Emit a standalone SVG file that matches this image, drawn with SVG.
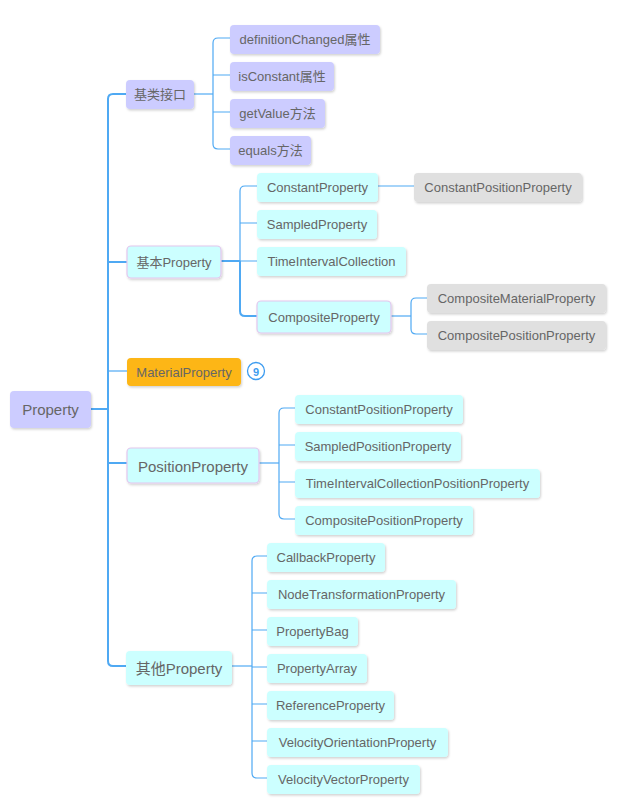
<svg xmlns="http://www.w3.org/2000/svg" width="622" height="804" viewBox="0 0 622 804">
<defs>
<filter id="sh" x="-10%" y="-20%" width="130%" height="160%">
<feDropShadow dx="1" dy="1.5" stdDeviation="0.8" flood-color="#000" flood-opacity="0.18"/>
</filter>
</defs>
<style>
.b{stroke:none;filter:url(#sh)}
.lav{fill:#ccccff}
.cy{fill:#ccffff}
.gr{fill:#e0e0e0}
.or{fill:#fdb614}
.bd{stroke:#e3c6ee;stroke-width:1.2}
text{font-family:"Liberation Sans","Noto Sans CJK SC",sans-serif;fill:#666;text-anchor:middle;dominant-baseline:central;font-size:13px}
.big{font-size:15px}
.c{fill:none;stroke:#4fa9f3;stroke-width:1.2}
.t{stroke-width:2}
</style>
<rect width="622" height="804" fill="#fff"/>
<g id="connectors">
<!-- root -->
<path class="c t" d="M91 409H108"/>
<path class="c t" d="M126 94H113Q108 94 108 99V661Q108 666 113 666H126"/>
<path class="c t" d="M108 262H127"/>
<path class="c" d="M108 371H127"/>
<path class="c t" d="M108 463H127"/>
<!-- 基类接口 -->
<path class="c" d="M194 94H213"/>
<path class="c" d="M230 38H218Q213 38 213 43V144Q213 149 218 149H230"/>
<path class="c" d="M213 75H230M213 112H230"/>
<!-- 基本Property -->
<path class="c t" d="M221 261H240"/>
<path class="c" d="M257 186H245Q240 186 240 191V261"/>
<path class="c t" d="M240 261V311Q240 316 245 316H257"/>
<path class="c" d="M240 223H257M240 261H257"/>
<path class="c" d="M378 186H414"/>
<!-- CompositeProperty -->
<path class="c" d="M391 316H411"/>
<path class="c" d="M427 298H416Q411 298 411 303V329Q411 334 416 334H427"/>
<!-- PositionProperty -->
<path class="c" d="M259 463H279"/>
<path class="c" d="M295 408H284Q279 408 279 413V514Q279 519 284 519H295"/>
<path class="c" d="M279 445H295M279 482H295"/>
<!-- 其他Property -->
<path class="c" d="M232 666H252"/>
<path class="c" d="M267 556H257Q252 556 252 561V773Q252 778 257 778H267"/>
<path class="c" d="M252 593H267M252 630H267M252 667H267M252 704H267M252 741H267"/>
</g>
<g id="n-root"><rect class="b lav" x="10" y="391" width="81" height="37" rx="4"/><text class="big" x="50.5" y="409.5">Property</text></g>
<g id="n-jilei"><rect class="b lav" x="126" y="80" width="68" height="29" rx="4"/><text x="160" y="94.5">基类接口</text></g>
<g id="n-def"><rect class="b lav" x="230" y="25" width="150" height="29" rx="4"/><text x="305" y="39.5">definitionChanged属性</text></g>
<g id="n-isc"><rect class="b lav" x="230" y="62" width="104" height="29" rx="4"/><text x="282" y="76.5">isConstant属性</text></g>
<g id="n-getv"><rect class="b lav" x="230" y="99" width="95" height="29" rx="4"/><text x="277.5" y="113.5">getValue方法</text></g>
<g id="n-eq"><rect class="b lav" x="230" y="136" width="81" height="29" rx="4"/><text x="270.5" y="150.5">equals方法</text></g>
<g id="n-jiben"><rect class="b cy bd" x="127" y="246" width="94" height="32" rx="4"/><text x="174" y="262.5">基本Property</text></g>
<g id="n-const"><rect class="b cy" x="257" y="173" width="121" height="29" rx="4"/><text x="317.5" y="187.5">ConstantProperty</text></g>
<g id="n-cpp1"><rect class="b gr" x="414" y="173" width="168" height="29" rx="4"/><text x="498" y="187.5">ConstantPositionProperty</text></g>
<g id="n-samp"><rect class="b cy" x="257" y="210" width="120" height="29" rx="4"/><text x="317" y="224.5">SampledProperty</text></g>
<g id="n-tic"><rect class="b cy" x="257" y="247" width="149" height="29" rx="4"/><text x="331.5" y="261.5">TimeIntervalCollection</text></g>
<g id="n-comp"><rect class="b cy bd" x="257" y="301" width="134" height="32" rx="4"/><text x="324" y="317.5">CompositeProperty</text></g>
<g id="n-cmp"><rect class="b gr" x="427" y="284" width="179" height="29" rx="4"/><text x="516.5" y="298.5">CompositeMaterialProperty</text></g>
<g id="n-cpp2"><rect class="b gr" x="427" y="321" width="179" height="29" rx="4"/><text x="516.5" y="335.5">CompositePositionProperty</text></g>
<g id="n-mat"><rect class="b or" x="127" y="358" width="114" height="28" rx="4"/><text x="184" y="372">MaterialProperty</text>
<circle cx="256" cy="371" r="8.5" fill="#fff" stroke="#3d9cf0" stroke-width="1.3"/><text x="256" y="371.5" style="font-size:11px;font-weight:bold;fill:#3d9cf0">9</text></g>
<g id="n-pos"><rect class="b cy bd" x="127" y="448" width="132" height="35" rx="4"/><text class="big" x="193" y="466">PositionProperty</text></g>
<g id="n-cpp3"><rect class="b cy" x="295" y="395" width="168" height="29" rx="4"/><text x="379" y="409.5">ConstantPositionProperty</text></g>
<g id="n-spp"><rect class="b cy" x="295" y="432" width="166" height="29" rx="4"/><text x="378" y="446.5">SampledPositionProperty</text></g>
<g id="n-ticpp"><rect class="b cy" x="295" y="469" width="245" height="29" rx="4"/><text x="417.5" y="483.5">TimeIntervalCollectionPositionProperty</text></g>
<g id="n-cpp4"><rect class="b cy" x="295" y="506" width="178" height="29" rx="4"/><text x="384" y="520.5">CompositePositionProperty</text></g>
<g id="n-qita"><rect class="b cy" x="126" y="651" width="106" height="34" rx="4"/><text class="big" x="179" y="668.5">其他Property</text></g>
<g id="n-cb"><rect class="b cy" x="267" y="543" width="118" height="29" rx="4"/><text x="326" y="557.5">CallbackProperty</text></g>
<g id="n-nt"><rect class="b cy" x="267" y="580" width="189" height="29" rx="4"/><text x="361.5" y="594.5">NodeTransformationProperty</text></g>
<g id="n-pb"><rect class="b cy" x="267" y="617" width="91" height="29" rx="4"/><text x="312.5" y="631.5">PropertyBag</text></g>
<g id="n-pa"><rect class="b cy" x="267" y="654" width="100" height="29" rx="4"/><text x="317" y="668.5">PropertyArray</text></g>
<g id="n-ref"><rect class="b cy" x="267" y="691" width="127" height="29" rx="4"/><text x="330.5" y="705.5">ReferenceProperty</text></g>
<g id="n-vo"><rect class="b cy" x="267" y="728" width="181" height="29" rx="4"/><text x="357.5" y="742.5">VelocityOrientationProperty</text></g>
<g id="n-vv"><rect class="b cy" x="267" y="765" width="153" height="29" rx="4"/><text x="343.5" y="779.5">VelocityVectorProperty</text></g>
</svg>
